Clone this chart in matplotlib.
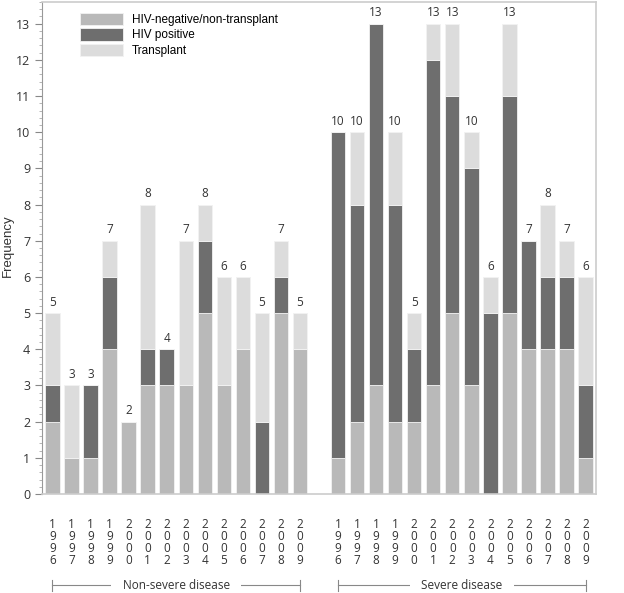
import numpy as np
import matplotlib
matplotlib.use("Agg")
import matplotlib.pyplot as plt
from matplotlib.ticker import MultipleLocator

years = ['1996', '1997', '1998', '1999', '2000', '2001', '2002',
         '2003', '2004', '2005', '2006', '2007', '2008', '2009']
groups = ['Non-severe disease', 'Severe disease']

# counts per year, non-severe then severe
hiv_neg_nonsev = [2, 1, 1, 4, 2, 3, 3, 3, 5, 3, 4, 0, 5, 4]
hiv_pos_nonsev = [1, 0, 2, 2, 0, 1, 1, 0, 2, 0, 0, 2, 1, 0]
transpl_nonsev = [2, 2, 0, 1, 0, 4, 0, 4, 1, 3, 2, 3, 1, 1]

hiv_neg_sev = [1, 2, 3, 2, 2, 3, 5, 3, 0, 5, 4, 4, 4, 1]
hiv_pos_sev = [9, 6, 10, 6, 2, 9, 6, 6, 5, 6, 3, 2, 2, 2]
transpl_sev = [0, 2, 0, 2, 1, 1, 2, 1, 1, 2, 0, 2, 1, 3]

c_neg, c_pos, c_tr = '#b9b9b9', '#6e6e6e', '#dcdcdc'

neg = np.array(hiv_neg_nonsev + hiv_neg_sev)
pos = np.array(hiv_pos_nonsev + hiv_pos_sev)
tr = np.array(transpl_nonsev + transpl_sev)
tot = neg + pos + tr
x = np.r_[np.arange(14), np.arange(15, 29)]

fig = plt.figure(figsize=(6.24, 5.93), dpi=100)
ax = fig.add_axes([42 / 624, 1 - 494 / 593, 554 / 624, 492 / 593])

w = 0.76
kw = dict(width=w, edgecolor='#f2f2f2', linewidth=0.6)
ax.bar(x, neg, color=c_neg, label='HIV-negative/non-transplant', **kw)
ax.bar(x, pos, bottom=neg, color=c_pos, label='HIV positive', **kw)
ax.bar(x, tr, bottom=neg + pos, color=c_tr, label='Transplant', **kw)

for xi, t in zip(x, tot):
    ax.text(xi, t + 0.12, str(t), ha='center', va='bottom', fontsize=8.5,
            color='#333333', family='Open Sans')

ax.set_xlim(-0.55, 28.55)
ax.set_ylim(0, 13.6)
ax.yaxis.set_major_locator(MultipleLocator(1))
ax.yaxis.set_minor_locator(MultipleLocator(0.2))
ax.tick_params(axis='y', which='major', length=5, color='#888888',
               labelsize=9, labelcolor='#333333')
ax.tick_params(axis='y', which='minor', length=2.5, color='#aaaaaa')
for lab in ax.get_yticklabels():
    lab.set_family('Open Sans')

ax.set_xticks(x)
ax.set_xticklabels(['\n'.join(y) for y in years * 2], fontsize=8.5,
                   family='Open Sans', color='#333333', linespacing=0.9)
ax.tick_params(axis='x', length=0, pad=17)

for s in ['top', 'right', 'bottom']:
    ax.spines[s].set_color('#cccccc')
    ax.spines[s].set_linewidth(1.2)
ax.spines['left'].set_color('#999999')

fig.text(0.012, 0.585, 'Frequency', rotation=90, ha='center', va='center',
         fontsize=9.5, family='Liberation Sans', color='#333333')

# group brackets under the year labels
for gx, name in zip([x[:14], x[14:]], groups):
    x0, x1 = gx[0], gx[-1]
    ybr = -2.52
    lkw = dict(color='#888888', lw=0.8, clip_on=False)
    ax.plot([x0, x1], [ybr, ybr], **lkw)
    ax.plot([x0, x0], [ybr - 0.15, ybr + 0.15], **lkw)
    ax.plot([x1, x1], [ybr - 0.15, ybr + 0.15], **lkw)
    ax.text((x0 + x1) / 2, ybr, name, ha='center', va='center', fontsize=8.5,
            family='Open Sans', color='#333333', clip_on=False, zorder=5,
            bbox=dict(boxstyle='square,pad=0.95', fc='white', ec='none'))

leg = ax.legend(loc='upper left', bbox_to_anchor=(0.05, 1.0), frameon=False,
                handlelength=3.6, handleheight=1.25,
                labelspacing=0.2, handletextpad=0.8,
                prop={'family': 'Liberation Sans', 'size': 8.5})

fig.savefig('out.png', dpi=100)
